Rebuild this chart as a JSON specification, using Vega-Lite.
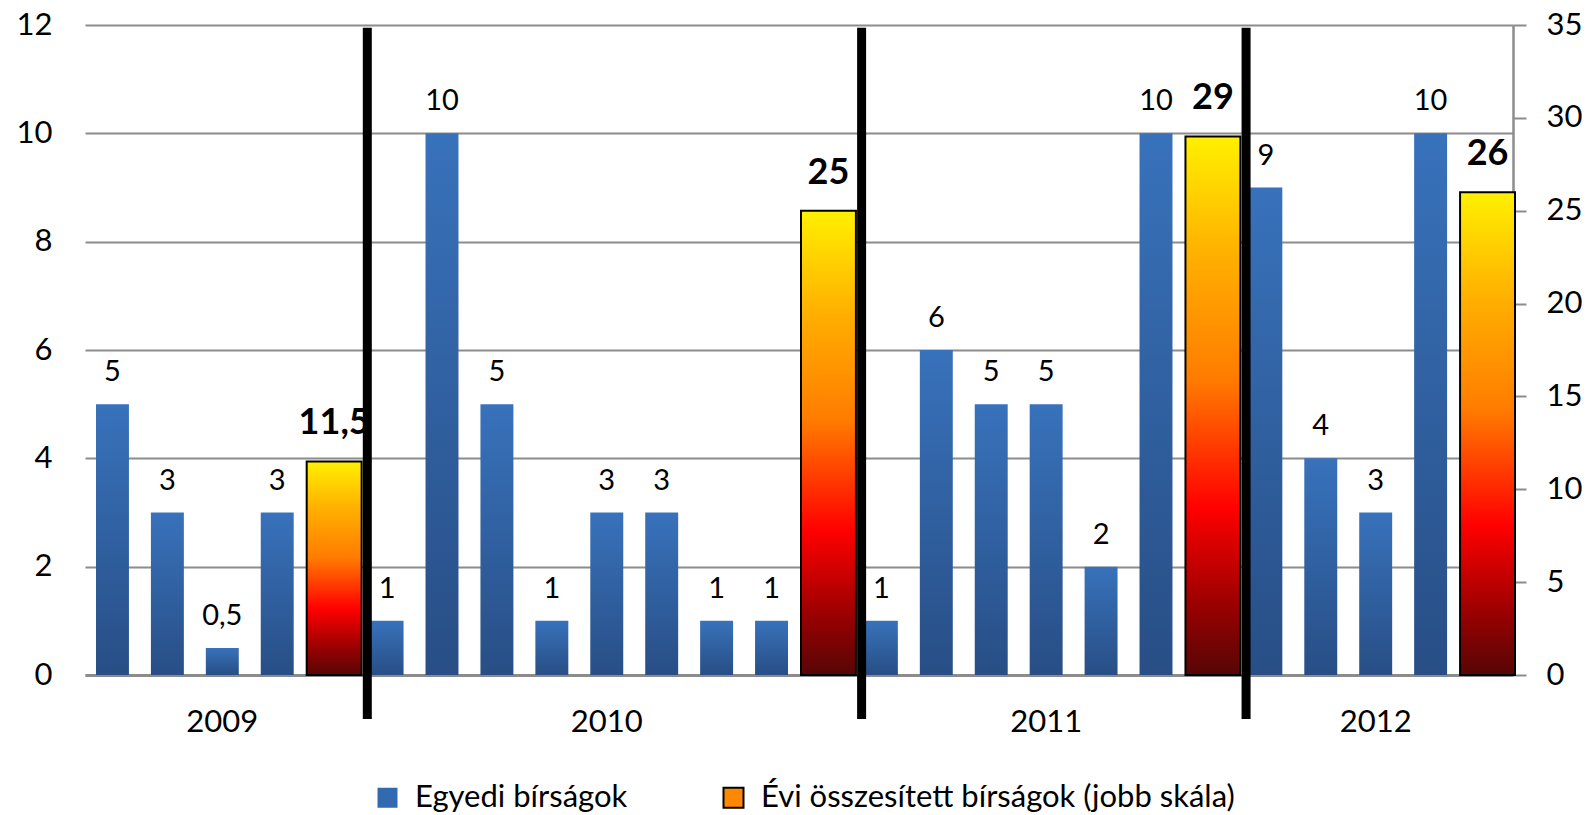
{
  "$schema": "https://vega.github.io/schema/vega-lite/v6.json",
  "width": 1428,
  "height": 650,
  "autosize": "none",
  "padding": {"left": 85, "top": 25, "right": 75, "bottom": 140},
  "background": "white",
  "config": {
    "font": "Lato",
    "view": {"stroke": null},
    "legend": {"symbolSize": 400, "symbolType": "square", "labelLimit": 0, "labelFontSize": 31, "labelColor": "black", "symbolStrokeWidth": 2, "labelOffset": 12, "columnPadding": 90, "padding": 0},
    "locale": {"number": {"decimal": ",", "thousands": " ", "grouping": [3], "currency": ["", " Ft"]}}
  },
  "datasets": {
    "bars": [
      {"slot": 1, "value": 5, "series": "Egyedi bírságok"},
      {"slot": 2, "value": 3, "series": "Egyedi bírságok"},
      {"slot": 3, "value": 0.5, "series": "Egyedi bírságok"},
      {"slot": 4, "value": 3, "series": "Egyedi bírságok"},
      {"slot": 5, "value": 11.5, "series": "Évi összesített bírságok (jobb skála)"},
      {"slot": 6, "value": 1, "series": "Egyedi bírságok"},
      {"slot": 7, "value": 10, "series": "Egyedi bírságok"},
      {"slot": 8, "value": 5, "series": "Egyedi bírságok"},
      {"slot": 9, "value": 1, "series": "Egyedi bírságok"},
      {"slot": 10, "value": 3, "series": "Egyedi bírságok"},
      {"slot": 11, "value": 3, "series": "Egyedi bírságok"},
      {"slot": 12, "value": 1, "series": "Egyedi bírságok"},
      {"slot": 13, "value": 1, "series": "Egyedi bírságok"},
      {"slot": 14, "value": 25, "series": "Évi összesített bírságok (jobb skála)"},
      {"slot": 15, "value": 1, "series": "Egyedi bírságok"},
      {"slot": 16, "value": 6, "series": "Egyedi bírságok"},
      {"slot": 17, "value": 5, "series": "Egyedi bírságok"},
      {"slot": 18, "value": 5, "series": "Egyedi bírságok"},
      {"slot": 19, "value": 2, "series": "Egyedi bírságok"},
      {"slot": 20, "value": 10, "series": "Egyedi bírságok"},
      {"slot": 21, "value": 29, "series": "Évi összesített bírságok (jobb skála)"},
      {"slot": 22, "value": 9, "series": "Egyedi bírságok"},
      {"slot": 23, "value": 4, "series": "Egyedi bírságok"},
      {"slot": 24, "value": 3, "series": "Egyedi bírságok"},
      {"slot": 25, "value": 10, "series": "Egyedi bírságok"},
      {"slot": 26, "value": 26, "series": "Évi összesített bírságok (jobb skála)"}
    ],
    "dividers": [{"slot": 5}, {"slot": 14}, {"slot": 21}]
  },
  "layer": [
    {
      "data": {"name": "bars"},
      "transform": [{"filter": "datum.series === 'Egyedi bírságok'"}],
      "encoding": {
        "x": {
          "field": "slot", "type": "ordinal",
          "scale": {"paddingInner": 0, "paddingOuter": 0},
          "axis": {"title": null, "labelAngle": 0, "ticks": false, "domain": true, "domainColor": "#8c8c8c", "domainWidth": 3, "labelFontSize": 31, "labelColor": "black", "labelPadding": 32, "labelOverlap": false,
            "labelExpr": "datum.value == 3 ? '2009' : datum.value == 10 ? '2010' : datum.value == 18 ? '2011' : datum.value == 24 ? '2012' : ''"}
        },
        "y": {
          "field": "value", "type": "quantitative",
          "scale": {"domain": [0, 12], "nice": false},
          "axis": {"orient": "left", "title": null, "values": [0, 2, 4, 6, 8, 10, 12], "grid": true, "gridColor": "#8c8c8c", "gridWidth": 2, "domain": false, "ticks": false, "labelFontSize": 31, "labelColor": "black", "labelPadding": 33}
        }
      },
      "layer": [
        {
          "mark": {"type": "bar", "width": {"band": 0.6}},
          "encoding": {
            "fill": {
              "condition": {
                "test": "false",
                "field": "series", "type": "nominal",
                "scale": {"domain": ["Egyedi bírságok", "Évi összesített bírságok (jobb skála)"], "range": ["#3369b0", "#ff8800"]},
                "legend": {
                  "title": null, "orient": "none", "legendX": 287, "legendY": 757, "direction": "horizontal",
                  "symbolType": "square", "symbolSize": 400, "labelFontSize": 31, "labelColor": "black", "labelOffset": 12, "columnPadding": 90, "padding": 0, "labelLimit": 0, "symbolStrokeWidth": 2
                }
              },
              "value": {"gradient": "linear", "x1": 0, "y1": 0, "x2": 0, "y2": 1, "stops": [{"offset": 0, "color": "#3872bb"}, {"offset": 1, "color": "#284e85"}]}
            },
            "stroke": {
              "condition": {
                "test": "false",
                "field": "series", "type": "nominal",
                "scale": {"domain": ["Egyedi bírságok", "Évi összesített bírságok (jobb skála)"], "range": ["transparent", "black"]},
                "legend": {
                  "title": null, "orient": "none", "legendX": 287, "legendY": 757, "direction": "horizontal",
                  "symbolType": "square", "symbolSize": 400, "labelFontSize": 31, "labelColor": "black", "labelOffset": 12, "columnPadding": 90, "padding": 0, "labelLimit": 0, "symbolStrokeWidth": 2
                }
              },
              "value": "transparent"
            }
          }
        },
        {
          "mark": {"type": "text", "dy": -23, "baseline": "alphabetic", "fontSize": 29, "color": "black"},
          "encoding": {"text": {"field": "value", "type": "quantitative", "format": ".1~f"}}
        }
      ]
    },
    {
      "data": {"name": "bars"},
      "transform": [{"filter": "datum.series !== 'Egyedi bírságok'"}],
      "encoding": {
        "x": {
          "field": "slot", "type": "ordinal",
          "scale": {"paddingInner": 0, "paddingOuter": 0},
          "axis": {"title": null, "labelAngle": 0, "ticks": false, "domain": true, "domainColor": "#8c8c8c", "domainWidth": 3, "labelFontSize": 31, "labelColor": "black", "labelPadding": 32, "labelOverlap": false,
            "labelExpr": "datum.value == 3 ? '2009' : datum.value == 10 ? '2010' : datum.value == 18 ? '2011' : datum.value == 24 ? '2012' : ''"}
        },
        "y": {
          "field": "value", "type": "quantitative",
          "scale": {"domain": [0, 35], "nice": false},
          "axis": {"orient": "right", "title": null, "values": [0, 5, 10, 15, 20, 25, 30, 35], "grid": false, "domain": true, "domainColor": "#8c8c8c", "domainWidth": 2.5, "ticks": true, "tickColor": "#8c8c8c", "tickWidth": 2, "tickSize": 13, "labelFontSize": 31, "labelColor": "black", "labelPadding": 20}
        }
      },
      "layer": [
        {
          "mark": {"type": "bar", "width": {"band": 1}, "xOffset": 2, "strokeWidth": 2},
          "encoding": {
            "fill": {
              "condition": {
                "test": "false",
                "field": "series", "type": "nominal",
                "scale": {"domain": ["Egyedi bírságok", "Évi összesített bírságok (jobb skála)"], "range": ["#3369b0", "#ff8800"]}
              },
              "value": {"gradient": "linear", "x1": 0, "y1": 0, "x2": 0, "y2": 1, "stops": [{"offset": 0, "color": "#fff000"}, {"offset": 0.22, "color": "#ffb000"}, {"offset": 0.45, "color": "#ff7c00"}, {"offset": 0.69, "color": "#ff0000"}, {"offset": 0.86, "color": "#a00000"}, {"offset": 1, "color": "#560606"}]}
            },
            "stroke": {
              "condition": {
                "test": "false",
                "field": "series", "type": "nominal",
                "scale": {"domain": ["Egyedi bírságok", "Évi összesített bírságok (jobb skála)"], "range": ["transparent", "black"]}
              },
              "value": "black"
            }
          }
        },
        {
          "mark": {"type": "text", "dy": -27, "xOffset": 2, "baseline": "alphabetic", "fontSize": 36, "fontWeight": "bold", "color": "black"},
          "encoding": {"text": {"field": "value", "type": "quantitative", "format": ".1~f"}}
        }
      ]
    },
    {
      "data": {"name": "dividers"},
      "mark": {"type": "rule", "color": "black", "strokeWidth": 9},
      "encoding": {
        "x": {
          "field": "slot", "type": "ordinal", "bandPosition": 1.14,
          "scale": {"paddingInner": 0, "paddingOuter": 0},
          "axis": {"title": null, "labelAngle": 0, "ticks": false, "domain": true, "domainColor": "#8c8c8c", "domainWidth": 3, "labelFontSize": 31, "labelColor": "black", "labelPadding": 32, "labelOverlap": false,
            "labelExpr": "datum.value == 3 ? '2009' : datum.value == 10 ? '2010' : datum.value == 18 ? '2011' : datum.value == 24 ? '2012' : ''"}
        },
        "y": {"datum": 11.95, "type": "quantitative", "scale": {"domain": [0, 12], "nice": false}, "axis": null},
        "y2": {"datum": -0.81}
      }
    }
  ],
  "resolve": {"scale": {"y": "independent"}}
}
